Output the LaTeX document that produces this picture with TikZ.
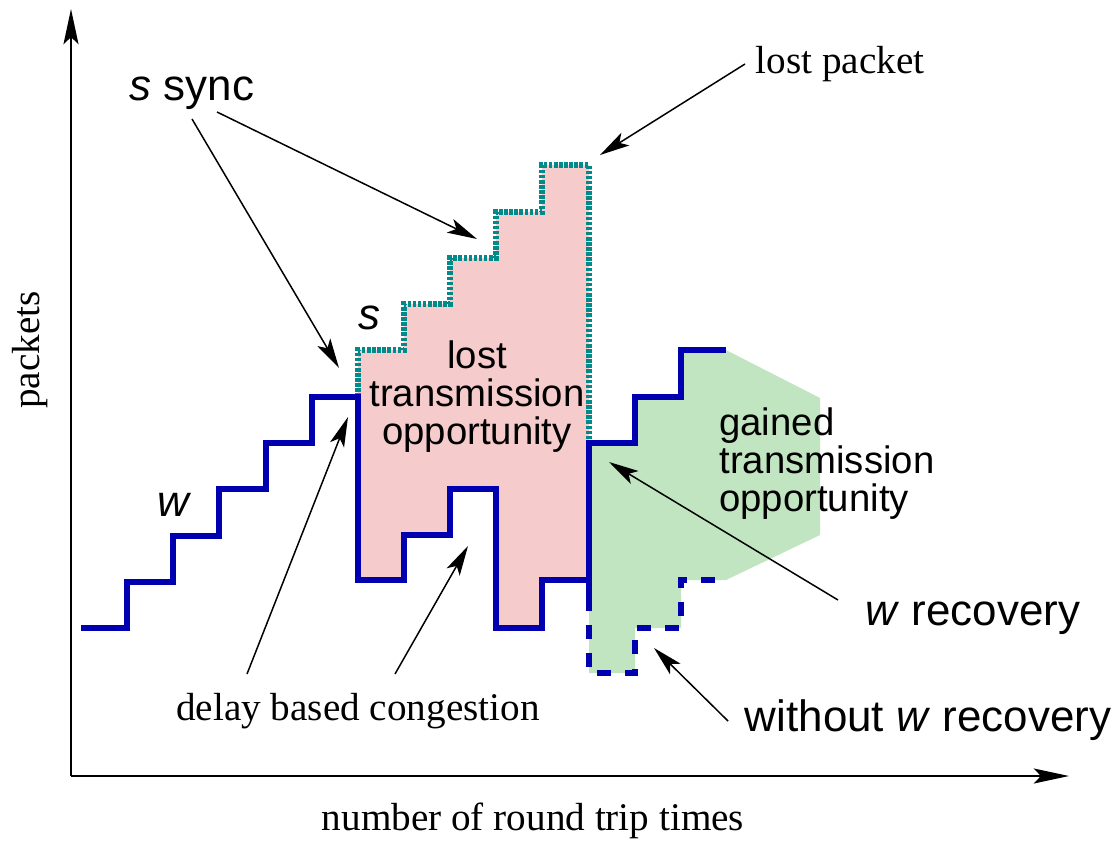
\documentclass[tikz,border=0pt]{standalone}
\usepackage{fontspec}
\setmainfont{Liberation Serif}
\setsansfont{Liberation Sans}
\usetikzlibrary{arrows.meta}
\definecolor{wblue}{HTML}{0000B0}
\definecolor{steal}{HTML}{008A8A}
\definecolor{lostpink}{HTML}{F5CBCB}
\definecolor{gaingreen}{HTML}{C1E4C1}
\begin{document}
\begin{tikzpicture}[x=0.02cm,y=-0.02cm,line join=miter,
  wline/.style={draw=wblue,line width=3pt},
  sline/.style={draw=steal,line width=3pt,dash pattern=on 2pt off 0.9pt},
  dline/.style={draw=wblue,line width=3pt,dash pattern=on 8pt off 8pt},
  axisarrow/.style={line width=1.5pt,-{Stealth[length=20pt,width=8.5pt,inset=4pt]}},
  ptr/.style={line width=0.85pt,-{Stealth[length=17pt,width=8.5pt,inset=4pt]}},
  biglab/.style={font=\sffamily\fontsize{25}{25}\selectfont,inner sep=0pt},
  reglab/.style={font=\sffamily\fontsize{21.8}{21.6}\selectfont,inner sep=0pt},
  serlab/.style={font=\fontsize{22.3}{22.3}\selectfont,inner sep=0pt}]
\useasboundingbox (0,0) rectangle (1111,841);

% fills
\fill[lostpink] (358,397) -- (358,350) -- (404,350) -- (404,304) -- (450,304) -- (450,258)
  -- (496,258) -- (496,212) -- (542,212) -- (542,165) -- (589,165) -- (589,580)
  -- (542,580) -- (542,628) -- (496,628) -- (496,489) -- (450,489) -- (450,535)
  -- (404,535) -- (404,580) -- (358,580) -- cycle;
\fill[gaingreen] (589,443) -- (635,443) -- (635,397) -- (681,397) -- (681,350) -- (726,350)
  -- (820,398) -- (820,535) -- (726,580) -- (681,580) -- (681,628) -- (635,628)
  -- (635,673) -- (589,673) -- cycle;

% axes
\coordinate (O) at (71,776);
\coordinate (ytop) at (71,9);
\coordinate (xend) at (1069,776);
\draw[axisarrow] (O) -- (ytop);
\draw[axisarrow] (O) -- (xend);

% s staircase
\draw[sline] (358,397) -- (358,350) -- (404,350) -- (404,304) -- (450,304) -- (450,258)
  -- (496,258) -- (496,212) -- (542,212) -- (542,165) -- (589,165) -- (589,443);

% w staircase
\draw[wline] (81,628) -- (127,628) -- (127,582) -- (173,582) -- (173,536) -- (219,536)
  -- (219,489) -- (266,489) -- (266,443) -- (312,443) -- (312,397) -- (358,397)
  -- (358,580) -- (404,580) -- (404,535) -- (450,535) -- (450,489) -- (496,489)
  -- (496,628) -- (542,628) -- (542,580) -- (589,580) -- (589,443) -- (635,443)
  -- (635,397) -- (681,397) -- (681,350) -- (726,350);
\draw[wline] (589,580) -- (589,597);

% without w recovery
\draw[dline] (589,597) -- (589,673) -- (635,673) -- (635,628) -- (681,628) -- (681,580) -- (726,580);

% labels
\node[biglab] (ssync) at (192,93) {\textit{s} sync};
\node[serlab] (lostpk) at (840,64) {lost packet};
\node[biglab] (slab) at (369,318) {\textit{s}};
\node[biglab] (wlab) at (175,505) {\textit{w}};
\node[reglab,align=center] (lto) at (477,397) {lost\\transmission\\opportunity};
\node[reglab,align=left,anchor=west] (gto) at (719,464) {gained\\transmission\\opportunity};
\node[biglab] (wrec) at (973,618) {\textit{w} recovery};
\node[biglab] (wout) at (928,720) {without \textit{w} recovery};
\node[serlab] (dbc) at (358,711) {delay based congestion};
\node[serlab] (xlab) at (533,821) {number of round trip times};
\node[serlab,rotate=90] (ylab) at (30,350) {packets};

% connector coordinates
\coordinate (ssA) at (192,119);
\coordinate (ssAt) at (339,368);
\coordinate (ssB) at (217,112);
\coordinate (ssBt) at (477,239);
\coordinate (lpA) at (745,64);
\coordinate (lpAt) at (600,155);
\coordinate (dA) at (247,674);
\coordinate (dAt) at (348,417);
\coordinate (dB) at (395,674);
\coordinate (dBt) at (468,546);
\coordinate (wrA) at (838,600);
\coordinate (wrAt) at (609,462);
\coordinate (woA) at (728,721);
\coordinate (woAt) at (654,648);

\draw[ptr] (ssA) -- (ssAt);
\draw[ptr] (ssB) -- (ssBt);
\draw[ptr] (lpA) -- (lpAt);
\draw[ptr] (dA) -- (dAt);
\draw[ptr] (dB) -- (dBt);
\draw[ptr] (wrA) -- (wrAt);
\draw[ptr] (woA) -- (woAt);
\end{tikzpicture}
\end{document}
